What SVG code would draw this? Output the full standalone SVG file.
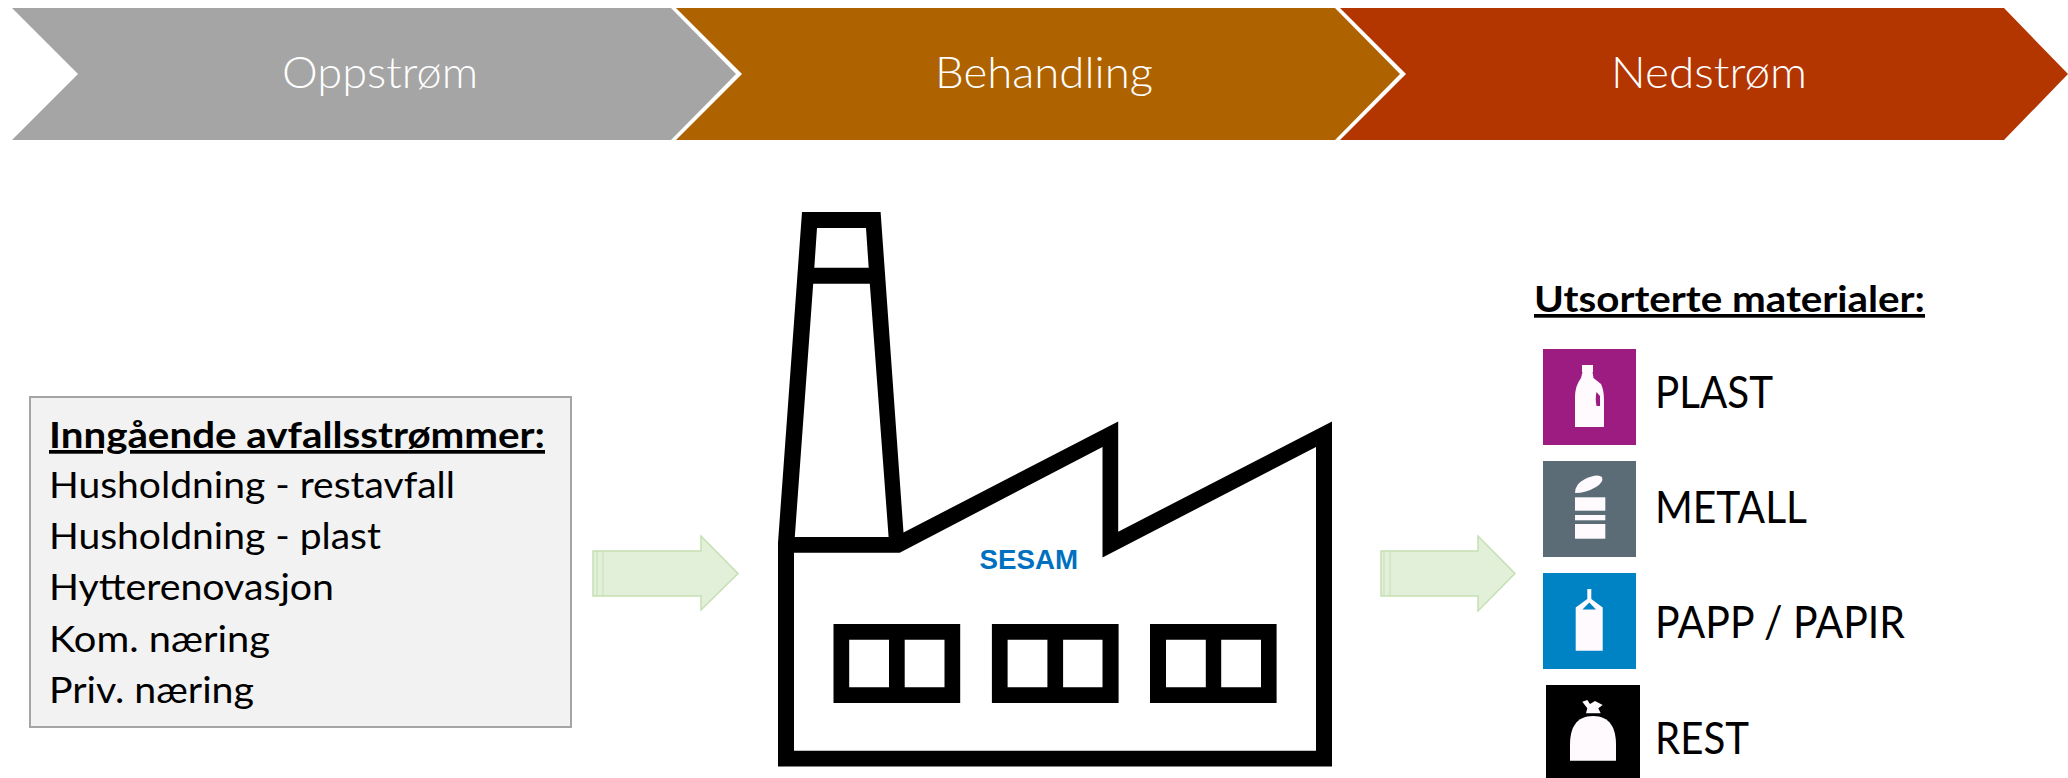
<svg xmlns="http://www.w3.org/2000/svg" width="2068" height="778" viewBox="0 0 2068 778">
<style>
text{font-family:"Lato","Liberation Sans",sans-serif;fill:#000}
.st{font-size:44px;font-weight:300;fill:#fff}
.bx{font-size:37px}
.hd{font-size:37px;font-weight:700;text-decoration:underline}
.mt{font-size:44px}
.arr{fill:#e2efd9;stroke:#c5e0b3;stroke-width:1.5}
.stripe{fill:none;stroke:#c5e0b3;stroke-width:1}
.ico{fill:#fefafd;fill-rule:evenodd}
.win{fill:#000;fill-rule:evenodd}
</style>
<rect width="2068" height="778" fill="#fff"/>
<g id="stage-oppstrom">
<polygon points="12,8 671,8 736,74 671,140 12,140 78,74" fill="#a5a5a5"/>
<text class="st" x="282" y="88" textLength="196" lengthAdjust="spacingAndGlyphs">Oppstrøm</text>
</g>
<g id="stage-behandling">
<polygon points="676,8 1335,8 1400,74 1335,140 676,140 742,74" fill="#ae6300"/>
<text class="st" x="935" y="88" textLength="218" lengthAdjust="spacingAndGlyphs">Behandling</text>
</g>
<g id="stage-nedstrom">
<polygon points="1340,8 2004,8 2068,74 2004,140 1340,140 1406,74" fill="#b33500"/>
<text class="st" x="1611" y="88" textLength="196" lengthAdjust="spacingAndGlyphs">Nedstrøm</text>
</g>
<g id="input-box">
<rect x="30" y="397" width="541" height="330" fill="#f2f2f2" stroke="#a5a5a5" stroke-width="2"/>
<text class="hd" x="49" y="448" textLength="496" lengthAdjust="spacingAndGlyphs">Inngående avfallsstrømmer:</text>
<text class="bx" x="49" y="498" textLength="406" lengthAdjust="spacingAndGlyphs">Husholdning - restavfall</text>
<text class="bx" x="49" y="549" textLength="332" lengthAdjust="spacingAndGlyphs">Husholdning - plast</text>
<text class="bx" x="49" y="600" textLength="285" lengthAdjust="spacingAndGlyphs">Hytterenovasjon</text>
<text class="bx" x="49" y="652" textLength="221" lengthAdjust="spacingAndGlyphs">Kom. næring</text>
<text class="bx" x="49" y="703" textLength="205" lengthAdjust="spacingAndGlyphs">Priv. næring</text>
</g>
<g id="connectors">
<path class="arr" d="M593 551H701V536L738 573.500L701 610V596H593Z"/>
<path class="stripe" d="M597 551V596M603 551V596"/>
<path class="arr" d="M1381 551H1478V536L1515 573.500L1478 611V596H1381Z"/>
<path class="stripe" d="M1384 551V596M1390 551V596"/>
</g>
<g id="factory">
<path class="win" d="M802 212H880.600L903.500 532.500L1118.200 421.500V531.700L1332 421.500V766.500H778V542.800ZM817 228L814.300 267.800H868.700L866 228ZM813.200 283.700L794.800 536.900H888.600L869.800 283.700ZM794 552.700V750.700H1316V447L1102.500 557.500V447L899.700 552.700Z"/>
<path class="win" d="M833.500 624H960.200V703H833.500ZM849.200 639.700V687.300H889V639.700ZM904.700 639.700V687.300H944.500V639.700Z"/>
<path class="win" d="M991.900 624H1118.600V703H991.900ZM1007.600 639.700V687.300H1047.400V639.700ZM1063.100 639.700V687.300H1102.500V639.700Z"/>
<path class="win" d="M1150 624H1276.600V703H1150ZM1166 639.700V687.300H1205.800V639.700ZM1221.200 639.700V687.300H1261V639.700Z"/>
<text x="979.500" y="568.500" font-size="27" font-weight="700" textLength="98.500" lengthAdjust="spacingAndGlyphs" style="font-family:'Liberation Sans',sans-serif;fill:#0070c0">SESAM</text>
</g>
<g id="materials-heading">
<text class="hd" x="1534" y="312" textLength="391" lengthAdjust="spacingAndGlyphs">Utsorterte materialer:</text>
</g>
<g id="material-plast">
<rect x="1543" y="349" width="93" height="96" fill="#9c1c82"/>
<path class="ico" d="M1582 365H1593V372H1592.500L1593.500 378L1601 384Q1604 390 1604 400V427H1575V397Q1575 386 1581 378L1582.500 372H1582ZM1596.500 392Q1595 398 1596.500 406H1600V396Z"/>
<text class="mt" x="1655" y="408" textLength="118" lengthAdjust="spacingAndGlyphs">PLAST</text>
</g>
<g id="material-metall">
<rect x="1543" y="461" width="93" height="96" fill="#5b6c77"/>
<path class="ico" d="M1575 493Q1575 484 1585 479Q1597 473 1602 477Q1604 482 1596 487Q1586 493 1575 493Z"/>
<rect class="ico" x="1575" y="497.300" width="30.300" height="13.400"/>
<rect class="ico" x="1575" y="515" width="30.300" height="5.300"/>
<rect class="ico" x="1575" y="524" width="30.300" height="14.700"/>
<text class="mt" x="1655" y="523" textLength="152" lengthAdjust="spacingAndGlyphs">METALL</text>
</g>
<g id="material-papp">
<rect x="1543" y="573" width="93" height="96" fill="#0083c4"/>
<path class="ico" d="M1587.300 589H1591.300V599L1602.700 607.500V650.700H1575.700V607.500L1587.300 599ZM1589.300 602.500L1582.500 609.500H1596Z"/>
<text class="mt" x="1655" y="638" textLength="250" lengthAdjust="spacingAndGlyphs">PAPP / PAPIR</text>
</g>
<g id="material-rest">
<rect x="1546" y="685" width="94" height="93" fill="#000"/>
<path class="ico" d="M1593 716C1610 716 1616 728 1616 745V760.700H1570V745C1570 728 1576 716 1593 716Z"/>
<polygon class="ico" points="1582.300,701.700 1587.300,700 1590,704 1595,701 1602.700,705 1598.300,708.300 1600.700,713.300 1586,713.300 1587.300,708.300"/>
<text class="mt" x="1655" y="754" textLength="94" lengthAdjust="spacingAndGlyphs">REST</text>
</g>
</svg>
